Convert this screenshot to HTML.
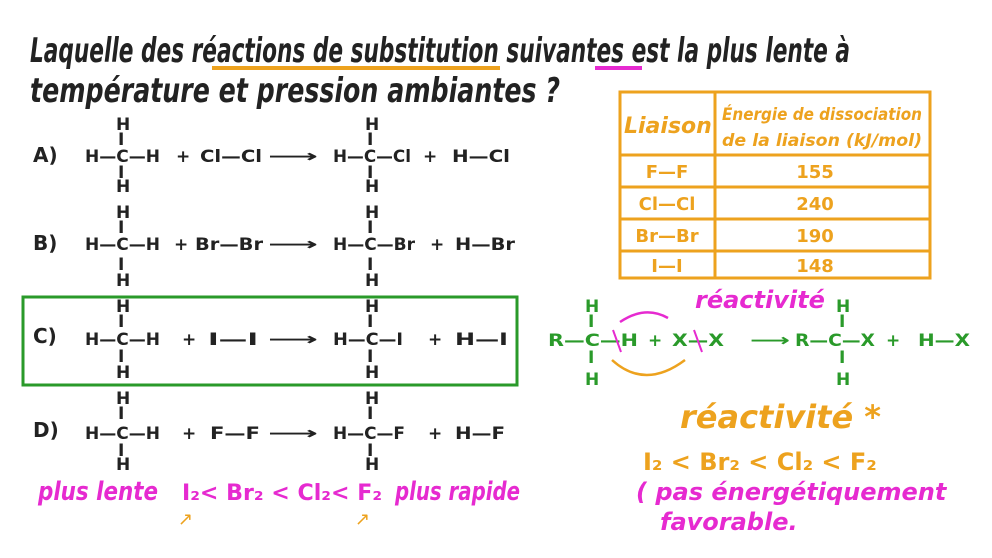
<!DOCTYPE html>
<html><head><meta charset="utf-8"><style>
body{margin:0;background:#fff;width:992px;height:558px;overflow:hidden}
svg{display:block}
text{font-family:"DejaVu Sans","Liberation Sans",sans-serif}
.h{font-size:34px;font-style:italic;font-weight:bold;fill:#222}
.c{font-size:17px;font-weight:bold;fill:#222}
.l{font-size:20px;font-weight:bold;fill:#222}
.o{fill:#eda21e}
.m{fill:#e62ad0}
.g{fill:#2a9a2a}
</style></head><body>
<svg width="992" height="558" viewBox="0 0 992 558">
<text class="h" x="30" y="62" textLength="820" lengthAdjust="spacingAndGlyphs">Laquelle des réactions de substitution suivantes est la plus lente à</text>
<text class="h" x="30" y="102" textLength="530" lengthAdjust="spacingAndGlyphs">température et pression ambiantes ?</text>
<line x1="212" y1="68" x2="500" y2="68" stroke="#eda21e" stroke-width="4"/>
<line x1="595" y1="68" x2="642" y2="68" stroke="#e62ad0" stroke-width="4"/>

<g stroke="#eda21e" stroke-width="3" fill="none">
<rect x="620" y="92" width="310" height="186"/>
<line x1="715" y1="92" x2="715" y2="278"/>
<line x1="620" y1="155" x2="930" y2="155"/>
<line x1="620" y1="187" x2="930" y2="187"/>
<line x1="620" y1="219" x2="930" y2="219"/>
<line x1="620" y1="251" x2="930" y2="251"/>
</g>
<text x="624" y="133" font-size="22" font-style="italic" font-weight="bold" class="o">Liaison</text>
<text x="722" y="120" font-size="17" font-style="italic" font-weight="bold" class="o" textLength="200" lengthAdjust="spacingAndGlyphs">Énergie de dissociation</text>
<text x="722" y="146" font-size="17" font-style="italic" font-weight="bold" class="o" textLength="200" lengthAdjust="spacingAndGlyphs">de la liaison (kJ/mol)</text>
<g font-size="18" font-weight="bold" text-anchor="middle">
<text x="667" y="178" class="o">F—F</text><text x="815" y="178" class="o">155</text>
<text x="667" y="210" class="o">Cl—Cl</text><text x="815" y="210" class="o">240</text>
<text x="667" y="242" class="o">Br—Br</text><text x="815" y="242" class="o">190</text>
<text x="667" y="272" class="o">I—I</text><text x="815" y="272" class="o">148</text>
</g>

<text class="l" x="33" y="162">A)</text>
<text class="l" x="33" y="250">B)</text>
<text class="l" x="33" y="343">C)</text>
<text class="l" x="33" y="437">D)</text>

<g>
<text class="c" x="116" y="130">H</text><text class="c" x="118" y="145">I</text><text class="c" x="116" y="192">H</text><text class="c" x="118" y="178">I</text>
<text class="c" x="365" y="130">H</text><text class="c" x="367" y="145">I</text><text class="c" x="365" y="192">H</text><text class="c" x="367" y="178">I</text>
<text class="c" x="85" y="162" textLength="75" lengthAdjust="spacingAndGlyphs">H—C—H</text>
<text class="c" x="176" y="162">+</text>
<text class="c" x="200" y="162" textLength="62" lengthAdjust="spacingAndGlyphs">Cl—Cl</text>
<text class="c" x="268" y="162" textLength="50" lengthAdjust="spacingAndGlyphs">⟶</text>
<text class="c" x="333" y="162" textLength="78" lengthAdjust="spacingAndGlyphs">H—C—Cl</text>
<text class="c" x="423" y="162">+</text>
<text class="c" x="452" y="162" textLength="58" lengthAdjust="spacingAndGlyphs">H—Cl</text>
</g>
<g>
<text class="c" x="116" y="218">H</text><text class="c" x="118" y="233">I</text><text class="c" x="116" y="286">H</text><text class="c" x="118" y="270">I</text>
<text class="c" x="365" y="218">H</text><text class="c" x="367" y="233">I</text><text class="c" x="365" y="286">H</text><text class="c" x="367" y="270">I</text>
<text class="c" x="85" y="250" textLength="75" lengthAdjust="spacingAndGlyphs">H—C—H</text>
<text class="c" x="174" y="250">+</text>
<text class="c" x="195" y="250" textLength="68" lengthAdjust="spacingAndGlyphs">Br—Br</text>
<text class="c" x="268" y="250" textLength="50" lengthAdjust="spacingAndGlyphs">⟶</text>
<text class="c" x="333" y="250" textLength="82" lengthAdjust="spacingAndGlyphs">H—C—Br</text>
<text class="c" x="430" y="250">+</text>
<text class="c" x="455" y="250" textLength="60" lengthAdjust="spacingAndGlyphs">H—Br</text>
</g>
<rect x="23" y="297" width="494" height="88" fill="none" stroke="#2a9a2a" stroke-width="3"/>
<g>
<text class="c" x="116" y="312">H</text><text class="c" x="118" y="327">I</text><text class="c" x="116" y="378">H</text><text class="c" x="118" y="362">I</text>
<text class="c" x="365" y="312">H</text><text class="c" x="367" y="327">I</text><text class="c" x="365" y="378">H</text><text class="c" x="367" y="362">I</text>
<text class="c" x="85" y="345" textLength="75" lengthAdjust="spacingAndGlyphs">H—C—H</text>
<text class="c" x="182" y="345">+</text>
<text class="c" x="208" y="345" textLength="50" lengthAdjust="spacingAndGlyphs">I—I</text>
<text class="c" x="268" y="345" textLength="50" lengthAdjust="spacingAndGlyphs">⟶</text>
<text class="c" x="333" y="345" textLength="70" lengthAdjust="spacingAndGlyphs">H—C—I</text>
<text class="c" x="428" y="345">+</text>
<text class="c" x="455" y="345" textLength="53" lengthAdjust="spacingAndGlyphs">H—I</text>
</g>
<g>
<text class="c" x="116" y="404">H</text><text class="c" x="118" y="419">I</text><text class="c" x="116" y="470">H</text><text class="c" x="118" y="456">I</text>
<text class="c" x="365" y="404">H</text><text class="c" x="367" y="419">I</text><text class="c" x="365" y="470">H</text><text class="c" x="367" y="456">I</text>
<text class="c" x="85" y="439" textLength="75" lengthAdjust="spacingAndGlyphs">H—C—H</text>
<text class="c" x="182" y="439">+</text>
<text class="c" x="210" y="439" textLength="50" lengthAdjust="spacingAndGlyphs">F—F</text>
<text class="c" x="268" y="439" textLength="50" lengthAdjust="spacingAndGlyphs">⟶</text>
<text class="c" x="333" y="439" textLength="72" lengthAdjust="spacingAndGlyphs">H—C—F</text>
<text class="c" x="428" y="439">+</text>
<text class="c" x="455" y="439" textLength="50" lengthAdjust="spacingAndGlyphs">H—F</text>
</g>

<text x="38" y="500" font-size="26" font-style="italic" font-weight="bold" class="m" textLength="120" lengthAdjust="spacingAndGlyphs">plus lente</text>
<text x="182" y="500" font-size="22" font-weight="bold" class="m" textLength="200" lengthAdjust="spacingAndGlyphs">I₂&lt; Br₂ &lt; Cl₂&lt; F₂</text>
<text x="395" y="500" font-size="26" font-style="italic" font-weight="bold" class="m" textLength="125" lengthAdjust="spacingAndGlyphs">plus rapide</text>
<text x="178" y="525" font-size="18" class="o">↗</text><text x="355" y="525" font-size="18" class="o">↗</text>

<g font-size="17" font-weight="bold">
<text x="585" y="312" class="g">H</text><text x="588" y="327" class="g">I</text>
<text x="588" y="363" class="g">I</text><text x="585" y="385" class="g">H</text>
<text x="836" y="312" class="g">H</text><text x="839" y="327" class="g">I</text>
<text x="839" y="363" class="g">I</text><text x="836" y="385" class="g">H</text>
<text x="548" y="346" class="g" textLength="90" lengthAdjust="spacingAndGlyphs">R—C—H</text>
<text x="648" y="346" class="g">+</text>
<text x="672" y="346" class="g" textLength="52" lengthAdjust="spacingAndGlyphs">X—X</text>
<text x="750" y="346" class="g" textLength="40" lengthAdjust="spacingAndGlyphs">⟶</text>
<text x="795" y="346" class="g" textLength="80" lengthAdjust="spacingAndGlyphs">R—C—X</text>
<text x="886" y="346" class="g">+</text>
<text x="918" y="346" class="g" textLength="52" lengthAdjust="spacingAndGlyphs">H—X</text>
</g>
<text x="695" y="308" font-size="24" font-style="italic" font-weight="bold" class="m">réactivité</text>
<path d="M668 318 Q645 305 620 322" fill="none" stroke="#e62ad0" stroke-width="2.5"/>
<path d="M612 360 Q645 390 685 360" fill="none" stroke="#eda21e" stroke-width="2.5"/>
<line x1="613" y1="330" x2="621" y2="352" stroke="#e62ad0" stroke-width="2"/>
<line x1="694" y1="330" x2="702" y2="352" stroke="#e62ad0" stroke-width="2"/>

<text x="680" y="428" font-size="32" font-style="italic" font-weight="bold" class="o">réactivité *</text>
<text x="643" y="470" font-size="24" font-weight="bold" class="o">I₂ &lt; Br₂ &lt; Cl₂ &lt; F₂</text>
<text x="636" y="500" font-size="24" font-style="italic" font-weight="bold" class="m">( pas énergétiquement</text>
<text x="660" y="530" font-size="24" font-style="italic" font-weight="bold" class="m">favorable.</text>
</svg>
</body></html>
